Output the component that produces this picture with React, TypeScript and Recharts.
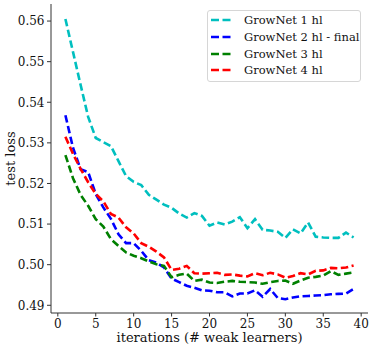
import { LineChart, Line, XAxis, YAxis, Legend } from 'recharts';

// iterations 1..39
const iterations = Array.from({ length: 39 }, (_, i) => i + 1);

const growNet1 = [
  0.5605, 0.5524, 0.5443, 0.5364, 0.5312, 0.5302, 0.5292, 0.5255, 0.5218, 0.5204,
  0.5196, 0.5172, 0.516, 0.5148, 0.514, 0.5126, 0.5116, 0.5127, 0.512, 0.5096,
  0.5104, 0.5099, 0.5106, 0.5117, 0.509, 0.5112, 0.5086, 0.5084, 0.5081, 0.5066,
  0.5087, 0.5077, 0.5104, 0.5069, 0.5067, 0.5066, 0.5066, 0.5079, 0.5067,
];
const growNet2 = [
  0.5368, 0.5288, 0.5235, 0.5228, 0.5174, 0.5141, 0.5113, 0.5075, 0.5053, 0.5053,
  0.5034, 0.5011, 0.5005, 0.4993, 0.4966, 0.4957, 0.4948, 0.4943, 0.4937, 0.4936,
  0.4932, 0.4932, 0.4922, 0.4929, 0.4929, 0.4937, 0.4921, 0.494, 0.4918, 0.4915,
  0.4919, 0.4922, 0.4923, 0.4924, 0.4925, 0.4927, 0.4928, 0.4929, 0.494,
];
const growNet3 = [
  0.527, 0.5213, 0.5172, 0.5145, 0.5112, 0.5094, 0.5063, 0.5046, 0.503, 0.5022,
  0.5016, 0.5008, 0.5001, 0.4997, 0.4969, 0.4975, 0.4978, 0.496, 0.4963, 0.4956,
  0.4955, 0.4958, 0.496, 0.4958, 0.4957, 0.4956, 0.4953, 0.4957, 0.496, 0.4961,
  0.4953, 0.4961, 0.4968, 0.497, 0.4973, 0.4984, 0.4975, 0.4978, 0.4981,
];
const growNet4 = [
  0.5315, 0.5273, 0.5236, 0.5203, 0.5174, 0.5156, 0.5125, 0.5116, 0.5092, 0.5077,
  0.5053, 0.5044, 0.5032, 0.5018, 0.4987, 0.499, 0.4997, 0.4979, 0.4978, 0.4979,
  0.498, 0.4975, 0.4976, 0.4973, 0.4971, 0.4979, 0.4974, 0.498, 0.4976, 0.4968,
  0.4972, 0.4979, 0.4976, 0.4985, 0.4986, 0.4992, 0.4991, 0.4993, 0.4998,
];

const xTicks = [0, 5, 10, 15, 20, 25, 30, 35, 40];
const yTicks = [0.49, 0.5, 0.51, 0.52, 0.53, 0.54, 0.55, 0.56];

const seriesList = [
  { key: 'g1', name: 'GrowNet 1 hl', color: '#00bfbf', values: growNet1 },
  { key: 'g2', name: 'GrowNet 2 hl - final', color: '#0000ff', values: growNet2 },
  { key: 'g3', name: 'GrowNet 3 hl', color: '#008000', values: growNet3 },
  { key: 'g4', name: 'GrowNet 4 hl', color: '#ff0000', values: growNet4 },
];

const data = iterations.map((it, i) => ({
  it,
  g1: growNet1[i],
  g2: growNet2[i],
  g3: growNet3[i],
  g4: growNet4[i],
}));

const FONT = '"DejaVu Serif", serif';
const DASH = '7.5 3.5';
const INK = '#111';

function LegendBox() {
  return (
    <div
      style={{
        border: '1px solid #d6d6d6',
        borderRadius: 3,
        background: '#fff',
        width: 152,
        padding: '1px 0 2px 0',
        fontFamily: FONT,
        fontSize: 11.5,
        color: INK,
      }}
    >
      {seriesList.map((s) => (
        <div key={s.key} style={{ display: 'flex', alignItems: 'center', height: 16.7 }}>
          <svg width={36} height={10} style={{ flexShrink: 0 }}>
            <line x1={3} x2={24} y1={5} y2={5} stroke={s.color} strokeWidth={2.6} strokeDasharray="8 3.5" />
          </svg>
          <span style={{ whiteSpace: 'nowrap' }}>{s.name}</span>
        </div>
      ))}
    </div>
  );
}

export default function App() {
  return (
    <div style={{ position: 'absolute', left: 0, top: 0, background: '#fff' }}>
      <LineChart width={374} height={348} data={data} margin={{ top: 4, right: 6, left: 0, bottom: 0 }}>
        <XAxis
          dataKey="it"
          type="number"
          domain={[-0.9, 40.9]}
          ticks={xTicks}
          allowDataOverflow
          height={35}
          stroke="#333"
          tickSize={3.5}
          tickMargin={2.7}
          tick={{ fill: INK, fontSize: 12, fontFamily: FONT }}
          label={{
            content: ({ viewBox }: any) => (
              <text
                x={viewBox.x + viewBox.width / 2}
                y={viewBox.y + 29}
                textAnchor="middle"
                fontFamily={FONT}
                fontSize={13}
                fill={INK}
              >
                iterations (# weak learners)
              </text>
            ),
          }}
        />
        <XAxis xAxisId="top" orientation="top" dataKey="it" type="number" domain={[-0.9, 40.9]} height={0} tick={false} tickLine={false} stroke="#333" />
        <YAxis
          type="number"
          domain={[0.4881, 0.5642]}
          ticks={yTicks}
          allowDataOverflow
          width={51}
          stroke="#333"
          tickSize={4}
          tickMargin={2.5}
          tickFormatter={(v: number) => v.toFixed(2)}
          tick={{ fill: INK, fontSize: 12, fontFamily: FONT }}
          label={{
            content: ({ viewBox }: any) => {
              const x = viewBox.x + 10;
              const y = viewBox.y + viewBox.height / 2;
              return (
                <text
                  x={x}
                  y={y}
                  transform={`rotate(-90, ${x}, ${y})`}
                  textAnchor="middle"
                  dominantBaseline="central"
                  fontFamily={FONT}
                  fontSize={13}
                  fill={INK}
                >
                  test loss
                </text>
              );
            },
          }}
        />
        <YAxis yAxisId="right" orientation="right" domain={[0.4881, 0.5642]} width={0} tick={false} tickLine={false} stroke="#333" />
        {seriesList.map((s) => (
          <Line
            key={s.key}
            dataKey={s.key}
            name={s.name}
            stroke={s.color}
            strokeWidth={2.6}
            strokeDasharray={DASH}
            dot={false}
            type="linear"
            isAnimationActive={false}
          />
        ))}
        <Legend
          layout="vertical"
          align="center"
          verticalAlign="middle"
          wrapperStyle={{ top: 10, left: 207, width: 154, height: 70 }}
          content={() => <LegendBox />}
        />
      </LineChart>
    </div>
  );
}
